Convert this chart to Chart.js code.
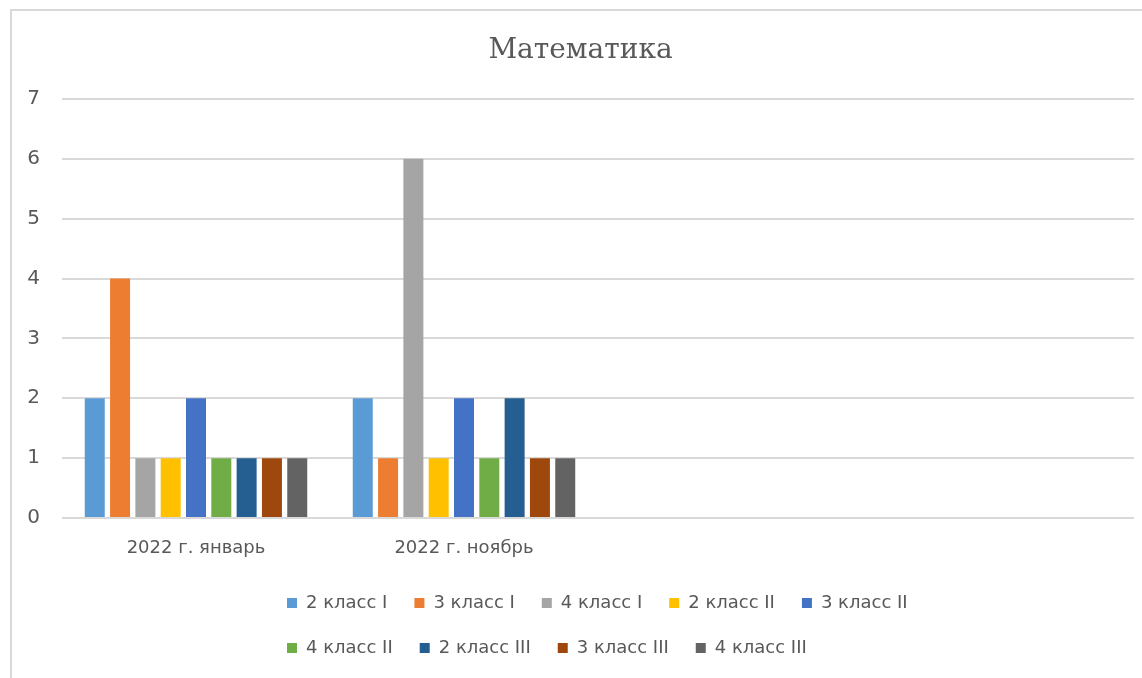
<!DOCTYPE html>
<html lang="ru">
<head>
<meta charset="utf-8">
<title>Математика</title>
<script src="https://cdn.jsdelivr.net/npm/chart.js@4/dist/chart.umd.min.js"></script>
<style>
    html, body {
        margin: 0;
        padding: 0;
        width: 1142px;
        height: 678px;
        overflow: hidden;
        background: #ffffff;
    }
    .frame {
        position: absolute;
        left: 10px;
        top: 9px;
        width: 1200px;
        height: 720px;
        border-top: 2px solid #d9d9d9;
        border-left: 2px solid #d9d9d9;
    }
    .chart-box {
        position: absolute;
        left: 10px;
        top: 0;
        width: 1150px;
        height: 678px;
    }
</style>
</head>
<body>
<div class="frame"></div>
<div class="chart-box">
    <canvas id="chart-math"></canvas>
</div>
<script>
// Данные диаграммы «Математика»
const categories = ['2022 г. январь', '2022 г. ноябрь', '', ''];
const seriesNames = [
    '2 класс I', '3 класс I', '4 класс I',
    '2 класс II', '3 класс II', '4 класс II',
    '2 класс III', '3 класс III', '4 класс III'
];
const january = [2, 4, 1, 1, 2, 1, 1, 1, 1];
const november = [2, 1, 6, 1, 2, 1, 2, 1, 1];
const yTicks = [0, 1, 2, 3, 4, 5, 6, 7];

const seriesColors = [
    '#5B9BD5', '#ED7D31', '#A5A5A5',
    '#FFC000', '#4472C4', '#70AD47',
    '#255E91', '#9E480E', '#636363'
];

const textColor = '#595959';
const gridColor = '#d9d9d9';
const legendLeft = 250;
const legendWidth = 730;

// легенда в две строки, как в Excel
const legendRows = {
    id: 'legendRows',
    beforeLayout(chart) {
        const legend = chart.legend;
        if (!legend || legend._rowsPatched) return;
        const update = legend.update.bind(legend);
        legend.update = (w, h, m) => update(Math.min(w, legendWidth), h, m);
        legend._rowsPatched = true;
    },
    afterLayout(chart) {
        const legend = chart.legend;
        if (!legend) return;
        legend.left = legendLeft;
        legend.right = legendLeft + legendWidth;
        legend.width = legendWidth;
    }
};

const datasets = seriesNames.map((name, i) => ({
    label: name,
    data: [january[i], november[i], null, null],
    backgroundColor: seriesColors[i],
    categoryPercentage: 0.85,
    barPercentage: 0.79
}));

new Chart(document.getElementById('chart-math').getContext('2d'), {
    type: 'bar',
    data: {
        labels: categories,
        datasets
    },
    options: {
        responsive: true,
        maintainAspectRatio: false,
        animation: false,
        layout: {
            padding: { left: 17, right: 26, top: 0, bottom: 11 }
        },
        scales: {
            x: {
                grid: { display: false, drawTicks: false },
                border: { display: false },
                ticks: {
                    color: textColor,
                    padding: 20,
                    maxRotation: 0,
                    font: { family: '"DejaVu Sans", sans-serif', size: 18 }
                },
                afterFit: (axis) => {
                    axis.height = 49;
                    axis.paddingLeft = 0;
                    axis.paddingRight = 0;
                }
            },
            y: {
                min: 0,
                max: 7,
                afterBuildTicks: (axis) => {
                    axis.ticks = yTicks.map(v => ({ value: v }));
                },
                afterFit: (axis) => {
                    axis.width = 35;
                },
                grid: { color: gridColor, lineWidth: 2, drawTicks: false },
                border: { display: false },
                ticks: {
                    color: textColor,
                    padding: 22,
                    font: { family: '"DejaVu Sans", sans-serif', size: 20 }
                }
            }
        },
        plugins: {
            title: {
                display: true,
                text: 'Математика',
                color: textColor,
                font: { family: '"DejaVu Serif", serif', size: 28, weight: 'normal' },
                padding: { top: 34, bottom: 31.4 }
            },
            legend: {
                position: 'bottom',
                align: 'start',
                labels: {
                    color: textColor,
                    boxWidth: 10,
                    boxHeight: 10,
                    padding: 27,
                    font: { family: '"DejaVu Sans", sans-serif', size: 18 }
                }
            },
            tooltip: { enabled: false }
        }
    },
    plugins: [legendRows]
});
</script>
</body>
</html>
